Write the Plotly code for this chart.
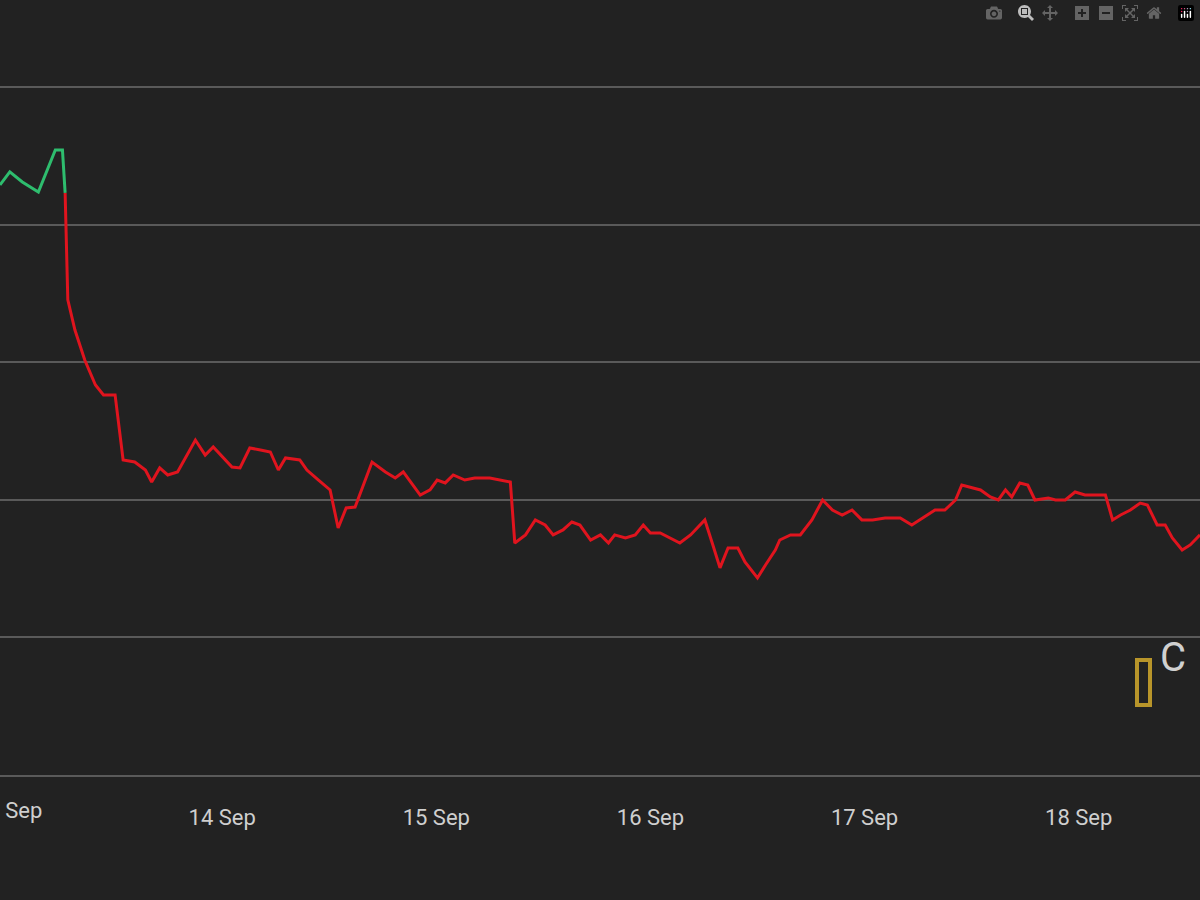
import plotly.graph_objects as go
import pandas as pd

# hours since 13 Sep 00:00
hours = [-0.9,0.2,1.6,3.4,5.3,6.1,6.4,
         6.7,7.5,8.6,9.8,10.7,12.0,12.9,14.2,15.4,16.1,17.0,17.9,19.0,21.0,22.1,23.0,25.1,26.0,27.1,28.3,29.4,30.3,31.1,32.7,33.5,34.8,36.1,37.0,37.9,38.9,40.8,42.3,43.4,44.3,46.2,47.3,48.1,49.0,49.9,51.2,52.3,54.0,55.2,56.3,56.8,58.0,59.1,60.2,61.1,62.2,63.2,64.1,65.3,66.4,67.3,68.0,69.2,70.3,71.2,72.0,73.1,74.2,75.3,76.5,78.1,79.0,79.8,80.7,81.8,82.6,84.0,84.9,86.0,86.5,87.7,88.8,90.1,91.3,92.4,93.5,94.6,95.7,96.9,98.3,100.0,101.3,102.2,103.9,105.0,106.2,106.9,107.8,109.0,110.1,111.0,111.8,112.5,113.4,114.3,115.1,116.6,117.4,118.5,119.6,120.7,121.9,123.0,123.8,124.7,125.8,126.9,127.7,128.8,129.7,130.5,131.6,132.5,133.6]
prices = [44291,44386,44313,44240,44546,44546,44233,
          43455,43236,43018,42836,42764,42764,42291,42276,42218,42131,42233,42182,42204,42436,42327,42386,42240,42233,42378,42364,42349,42218,42306,42291,42218,42145,42073,41796,41942,41949,42276,42204,42160,42204,42036,42073,42145,42124,42182,42145,42160,42160,42145,42131,41687,41746,41855,41818,41746,41782,41840,41818,41709,41746,41687,41746,41724,41746,41818,41760,41760,41724,41687,41746,41855,41673,41506,41651,41651,41549,41433,41527,41636,41709,41746,41746,41855,42000,41927,41891,41927,41855,41855,41869,41869,41818,41855,41927,41927,42000,42109,42095,42073,42022,42000,42073,42022,42124,42109,42000,42015,42000,42000,42058,42036,42036,42036,41855,41891,41927,41978,41964,41818,41818,41724,41636,41673,41746]
n_up = 7  # first points in the rising (green) segment
tick_labels = ["13 Sep","14 Sep","15 Sep","16 Sep","17 Sep","18 Sep"]

base = pd.Timestamp("2021-09-13")
t = [base + pd.Timedelta(hours=h) for h in hours]
tickvals = [base + pd.Timedelta(days=i) for i in range(6)]

fig = go.Figure()
fig.add_trace(go.Scatter(x=t[:n_up], y=prices[:n_up], mode="lines",
                         line=dict(color="#2ebd6e", width=3), showlegend=False))
fig.add_trace(go.Scatter(x=t[n_up-1:], y=prices[n_up-1:], mode="lines",
                         line=dict(color="#e0141e", width=3), showlegend=False))

fig.update_layout(
    width=1200, height=900, margin=dict(l=0, r=0, t=0, b=125),
    paper_bgcolor="#222222", plot_bgcolor="#222222",
    xaxis=dict(range=[base + pd.Timedelta(hours=-0.9), base + pd.Timedelta(hours=133.6)],
               tickvals=tickvals[1:], ticktext=tick_labels[1:], showgrid=False, zeroline=False,
               showline=True, linecolor="#5a5a5a", linewidth=1.5,
               tickfont=dict(family="Roboto", size=22, color="#cfcfcf"), ticklen=0,
               ticklabelstandoff=22),
    yaxis=dict(range=[40000, 45636], tickvals=[40000,41000,42000,43000,44000,45000],
               showticklabels=False, gridcolor="#5a5a5a", gridwidth=1.5, zeroline=False),
)
# first day label, partly cut off at the left edge
fig.add_annotation(x=tickvals[0], yref="paper", y=0, yshift=-35, text=tick_labels[0],
                   showarrow=False, xanchor="center", yanchor="middle",
                   font=dict(family="Roboto", size=22, color="#cfcfcf"))
# logo
fig.add_shape(type="rect", xref="paper", yref="paper", x0=1137/1200, x1=1150/1200,
              y0=(775-705)/775, y1=(775-660)/775,
              line=dict(color="#b8952a", width=4), fillcolor="rgba(0,0,0,0)")
fig.add_annotation(xref="paper", yref="paper", x=1158/1200, y=(775-683)/775,
                   text="C", showarrow=False, xanchor="left",
                   font=dict(family="Roboto", size=40, color="#d0d0d0"))
fig.write_html("out.html",
               post_script="document.body.style.margin='0';document.body.style.background='#222222';")
